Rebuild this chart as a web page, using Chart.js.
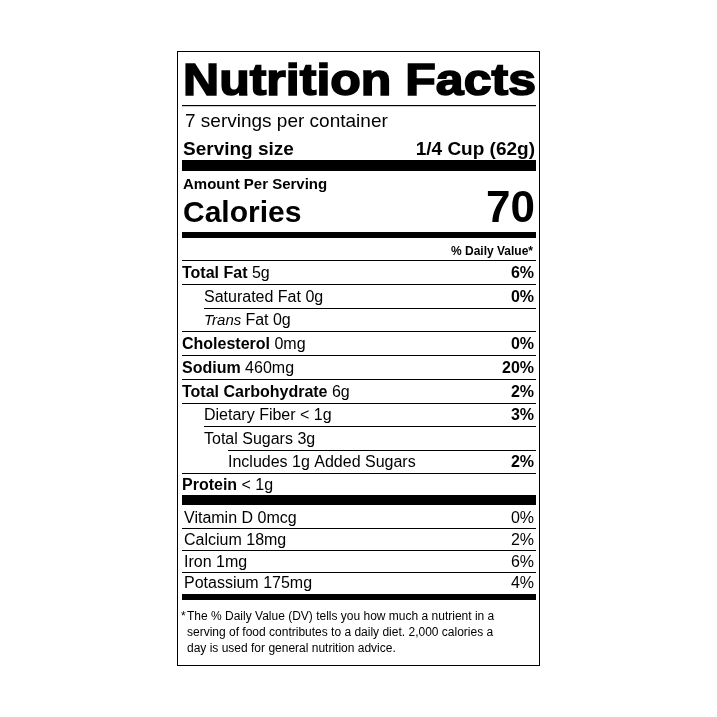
<!DOCTYPE html>
<html><head><meta charset="utf-8">
<script src="https://cdn.jsdelivr.net/npm/chart.js@4"></script>
<style>html,body{margin:0;padding:0;background:#fff}</style>
</head><body>
<canvas id="c" width="717" height="717"></canvas>
<script>
const title = "Nutrition Facts";
const servingsText = "7 servings per container";
const servingSize = "1/4 Cup (62g)";
const calories = "70";
// main nutrient rows
const nutrientNames = ["Total Fat","Saturated Fat","Trans Fat","Cholesterol","Sodium","Total Carbohydrate","Dietary Fiber","Total Sugars","Includes 1g Added Sugars","Protein"];
const nutrientAmounts = ["5g","0g","0g","0mg","460mg","6g","< 1g","3g","","< 1g"];
const nutrientDV = ["6%","0%","","0%","20%","2%","3%","","2%",""];
const nutrientLevel = [0,1,1,0,0,0,1,1,2,0];
// vitamins and minerals
const vitaminNames = ["Vitamin D","Calcium","Iron","Potassium"];
const vitaminAmounts = ["0mcg","18mg","1mg","175mg"];
const vitaminDV = ["0%","2%","6%","4%"];
const footnote = ["The % Daily Value (DV) tells you how much a nutrient in a","serving of food contributes to a daily diet. 2,000 calories a","day is used for general nutrition advice."];

const F = '"Liberation Sans", Arial, sans-serif';
const L = 182, R = 536;
const label = {
  id:'label',
  afterDraw(chart){
    const c = chart.ctx;
    c.save();
    c.fillStyle='#000'; c.strokeStyle='#000';
    c.strokeRect(177.5,51.5,362,614);
    const bar=(y,h,x0=L,x1=R)=>c.fillRect(x0,y,x1-x0,h);
    const txt=(s,x,y,font,align='left')=>{c.font=font;c.textAlign=align;c.textBaseline='alphabetic';c.fillText(s,x,y);};
    // title stretched to width
    c.font='bold 44px '+F;
    const w=c.measureText(title).width;
    c.save(); c.translate(183,95); c.scale(353/w,1.02);
    c.lineWidth=1.6; c.textAlign='left'; c.fillText(title,0,0); c.strokeText(title,0,0); c.restore();
    bar(105,1.2);
    txt(servingsText,185,127,'19px '+F);
    txt("Serving size",183,155,'bold 19px '+F);
    txt(servingSize,535,155,'bold 19px '+F,'right');
    bar(160,11);
    txt("Amount Per Serving",183,189,'bold 15px '+F);
    txt("Calories",183,222,'bold 30px '+F);
    txt(calories,535,222,'bold 44px '+F,'right');
    bar(232,6);
    txt("% Daily Value*",533,255,'bold 12px '+F,'right');
    bar(260,1);
    const ys=[278,302,325,349,373,397,420,444,467,490];
    const indent=[0,22,22,0,0,0,22,22,46,0];
    nutrientNames.forEach((n,i)=>{
      const x=L+indent[nutrientLevel[i]===0?0:(nutrientLevel[i]===1?1:8)];
      const y=ys[i];
      c.font=(nutrientLevel[i]===0?'bold ':'')+'16px '+F;
      c.textAlign='left';
      let nm=n;
      if(n==="Trans Fat"){
        c.font='italic 15px '+F; c.fillText("Trans",x,y);
        const tw=c.measureText("Trans ").width;
        c.font='16px '+F; c.fillText("Fat "+nutrientAmounts[i],x+tw,y);
      } else {
        c.fillText(nm,x,y);
        const nw=c.measureText(nm+" ").width;
        c.font='16px '+F; c.fillText(nutrientAmounts[i],x+nw,y);
      }
      if(nutrientDV[i]) txt(nutrientDV[i],534,y,'bold 16px '+F,'right');
      if(i<nutrientNames.length-1){
        const nl=nutrientLevel[i+1];
        const x0 = i===7 ? L+46 : (nl>0 && nutrientLevel[i]>0 ? L+22 : L);
        bar(y+6,1,x0);
      }
    });
    bar(495,10);
    const vy=[523,545,567,588];
    vitaminNames.forEach((n,i)=>{
      txt(n+" "+vitaminAmounts[i],184,vy[i],'16px '+F);
      txt(vitaminDV[i],534,vy[i],'16px '+F,'right');
      if(i<3) bar(vy[i]+5,1);
    });
    bar(594,6);
    txt("*",181,620,'12px '+F);
    footnote.forEach((s,i)=>txt(s,187,620+16*i,'12px '+F));
    c.restore();
  }
};
new Chart(document.getElementById('c'),{
  type:'bar',
  data:{labels:nutrientNames,datasets:[{data:nutrientNames.map(()=>0)}]},
  options:{responsive:false,animation:false,devicePixelRatio:1,
    plugins:{legend:{display:false},tooltip:{enabled:false}},
    scales:{x:{display:false},y:{display:false}}},
  plugins:[label]
});
</script>
</body></html>
